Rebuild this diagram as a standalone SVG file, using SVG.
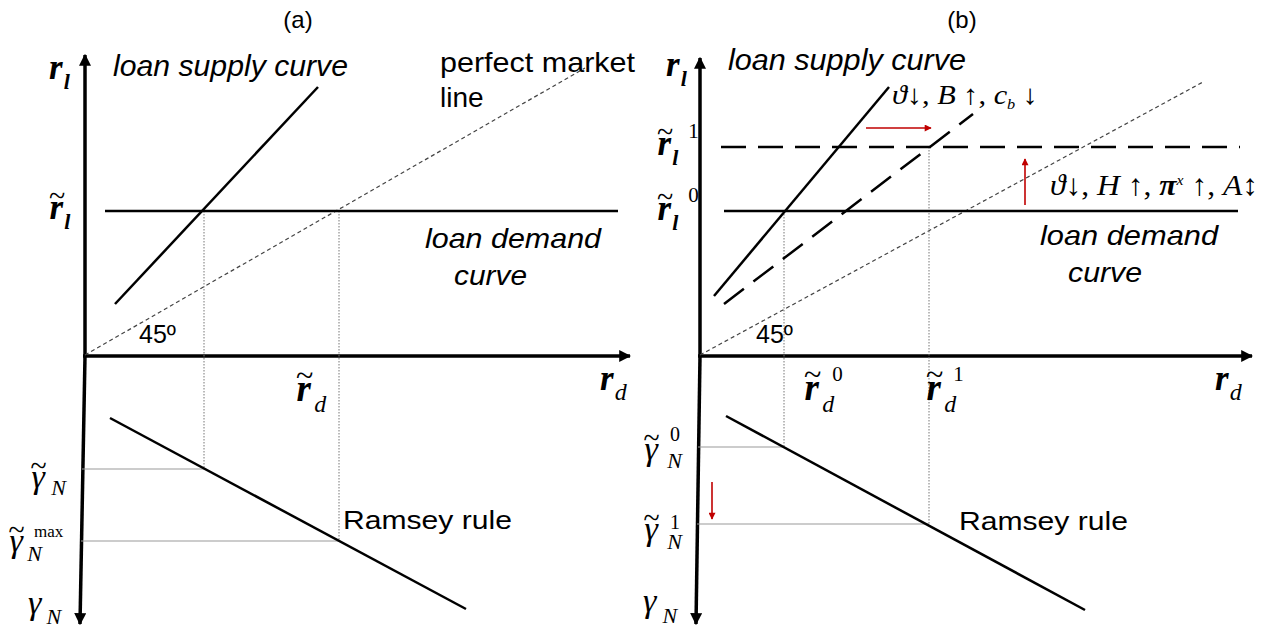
<svg xmlns="http://www.w3.org/2000/svg" width="1275" height="630" viewBox="0 0 1275 630">
<defs>
<marker id="ah" viewBox="0 0 10 10" refX="9" refY="5" markerWidth="12" markerHeight="12" markerUnits="userSpaceOnUse" orient="auto"><path d="M0,0 L10,5 L0,10 z" fill="#000"/></marker>
<marker id="rh" viewBox="0 0 10 10" refX="9" refY="5" markerWidth="8" markerHeight="7" markerUnits="userSpaceOnUse" orient="auto"><path d="M0,0 L10,5 L0,10 z" fill="#c00000"/></marker>
<style>
.ax{stroke:#000;stroke-width:3.5;fill:none}
.cv{stroke:#000;stroke-width:2.5;fill:none}
.dsh{stroke:#000;stroke-width:2.5;stroke-dasharray:25 12;fill:none}
.perf{stroke:#444;stroke-width:1.2;stroke-dasharray:4 3;fill:none}
.vg{stroke:#777;stroke-width:1;stroke-dasharray:1.5 1.5;fill:none}
.hg{stroke:#999;stroke-width:1;fill:none}
.red{stroke:#c00000;stroke-width:1.6;fill:none}
.t{font-family:"Liberation Sans",Arial,sans-serif;fill:#000}
.ti{font-family:"Liberation Sans",Arial,sans-serif;font-style:italic;fill:#000}
.mb{font-family:"Liberation Serif","Times New Roman",serif;font-style:italic;font-weight:bold;fill:#000}
.mi{font-family:"Liberation Serif","Times New Roman",serif;font-style:italic;font-weight:normal;fill:#000}
.mr{font-family:"Liberation Serif","Times New Roman",serif;font-style:normal;font-weight:normal;fill:#000}
.tl{font-style:normal;font-weight:normal}
</style>
</defs>

<g id="titles">
<text class="t" x="298" y="28" font-size="24" text-anchor="middle">(a)</text>
<text class="t" x="962" y="28" font-size="24" text-anchor="middle">(b)</text>
</g>

<g id="axes">
<line class="ax" x1="85" y1="356" x2="85" y2="55" marker-end="url(#ah)"/>
<line class="ax" x1="83" y1="356" x2="630" y2="356" marker-end="url(#ah)"/>
<line class="ax" x1="85" y1="356" x2="80" y2="624" marker-end="url(#ah)"/>
<line class="ax" x1="700" y1="356" x2="700" y2="58" marker-end="url(#ah)"/>
<line class="ax" x1="698" y1="356" x2="1252" y2="356" marker-end="url(#ah)"/>
<line class="ax" x1="700" y1="356" x2="696" y2="624" marker-end="url(#ah)"/>
</g>

<g id="connectors">
<line class="perf" x1="85" y1="355" x2="585" y2="68"/>
<line class="vg" x1="204" y1="211" x2="204" y2="469"/>
<line class="vg" x1="339" y1="211" x2="339" y2="541"/>
<line class="hg" x1="82" y1="469" x2="204" y2="469"/>
<line class="hg" x1="81" y1="541" x2="339" y2="541"/>
<line class="perf" x1="700" y1="355" x2="1203" y2="82"/>
<line class="vg" x1="784" y1="211" x2="784" y2="447"/>
<line class="vg" x1="929" y1="147" x2="929" y2="524"/>
<line class="hg" x1="698" y1="447" x2="784" y2="447"/>
<line class="hg" x1="697" y1="524" x2="929" y2="524"/>
</g>

<g id="supply-a"><line class="cv" x1="115" y1="304" x2="318" y2="87"/></g>
<g id="demand-a"><line class="cv" x1="105" y1="211" x2="618" y2="211"/></g>
<g id="ramsey-a"><line class="cv" x1="110" y1="418" x2="466" y2="609"/></g>

<g id="supply-b"><line class="cv" x1="714" y1="296" x2="889" y2="87"/></g>
<g id="supply-b1"><line class="dsh" x1="724" y1="304" x2="973" y2="114"/></g>
<g id="demand-b"><line class="cv" x1="724" y1="211" x2="1238" y2="211"/></g>
<g id="demand-b1"><line class="dsh" x1="721" y1="147" x2="1240" y2="147"/></g>
<g id="ramsey-b"><line class="cv" x1="726" y1="416" x2="1085" y2="610"/></g>

<g id="shift-arrows">
<line class="red" x1="866" y1="128" x2="931" y2="128" marker-end="url(#rh)"/>
<line class="red" x1="1025" y1="205" x2="1025" y2="159" marker-end="url(#rh)"/>
<line class="red" x1="712" y1="482" x2="712" y2="519" marker-end="url(#rh)"/>
</g>

<g id="labels-a">
<text class="ti" x="113" y="76" font-size="29" textLength="235" lengthAdjust="spacingAndGlyphs">loan supply curve</text>
<text class="t" x="440" y="72" font-size="28" textLength="195" lengthAdjust="spacingAndGlyphs">perfect market</text>
<text class="t" x="440" y="107" font-size="28">line</text>
<text class="ti" x="425" y="248" font-size="28" textLength="176" lengthAdjust="spacingAndGlyphs">loan demand</text>
<text class="ti" x="454" y="285" font-size="28" textLength="73" lengthAdjust="spacingAndGlyphs">curve</text>
<text class="t" x="139" y="343" font-size="25">45º</text>
<text class="t" x="343" y="529" font-size="25" textLength="169" lengthAdjust="spacingAndGlyphs">Ramsey rule</text>
<text class="mb" x="49" y="79" font-size="35">r<tspan dx="1" dy="10" font-size="22">l</tspan></text>
<text class="mb" x="49" y="219" font-size="35">r<tspan class="tl" font-size="30" dx="-14" dy="-13">~</tspan><tspan dx="-1" dy="23" font-size="22">l</tspan></text>
<text class="mb" x="296" y="401" font-size="37">r<tspan class="tl" font-size="32" dx="-15" dy="-15">~</tspan><tspan class="mi" dx="1" dy="26" font-size="24">d</tspan></text>
<text class="mb" x="600" y="390" font-size="35">r<tspan class="mi" dx="1" dy="10" font-size="24">d</tspan></text>
<text class="mi" x="30" y="488" font-size="34">γ<tspan font-size="30" dx="-15" dy="-12">~</tspan><tspan dx="5" dy="19" font-size="22">N</tspan></text>
<text class="mi" x="8" y="552" font-size="34">γ<tspan font-size="30" dx="-15" dy="-12">~</tspan><tspan dx="3" dy="21" font-size="22">N</tspan><tspan class="mr" dx="-8" dy="-24" font-size="17">max</tspan></text>
<text class="mi" x="28" y="614" font-size="34">γ<tspan dx="5" dy="10" font-size="22">N</tspan></text>
</g>

<g id="labels-b">
<text class="ti" x="728" y="70" font-size="29" textLength="238" lengthAdjust="spacingAndGlyphs">loan supply curve</text>
<text class="ti" x="1040" y="245" font-size="28" textLength="178" lengthAdjust="spacingAndGlyphs">loan demand</text>
<text class="ti" x="1068" y="282" font-size="28" textLength="74" lengthAdjust="spacingAndGlyphs">curve</text>
<text class="t" x="756" y="343" font-size="25">45º</text>
<text class="t" x="959" y="530" font-size="25" textLength="169" lengthAdjust="spacingAndGlyphs">Ramsey rule</text>
<text class="mb" x="666" y="76" font-size="35">r<tspan dx="1" dy="10" font-size="22">l</tspan></text>
<text class="mb" x="657" y="155" font-size="35">r<tspan class="tl" font-size="30" dx="-14" dy="-13">~</tspan><tspan dx="-1" dy="23" font-size="22">l</tspan><tspan class="mr" dx="10" dy="-27" font-size="21">1</tspan></text>
<text class="mb" x="657" y="220" font-size="35">r<tspan class="tl" font-size="30" dx="-14" dy="-13">~</tspan><tspan dx="-1" dy="23" font-size="22">l</tspan><tspan class="mr" dx="10" dy="-28" font-size="21">0</tspan></text>
<text class="mb" x="804" y="400" font-size="37">r<tspan class="tl" font-size="32" dx="-15" dy="-15">~</tspan><tspan class="mi" dx="1" dy="27" font-size="24">d</tspan><tspan class="mr" dx="-2" dy="-31" font-size="21">0</tspan></text>
<text class="mb" x="926" y="400" font-size="37">r<tspan class="tl" font-size="32" dx="-15" dy="-15">~</tspan><tspan class="mi" dx="1" dy="27" font-size="24">d</tspan><tspan class="mr" dx="-3" dy="-31" font-size="21">1</tspan></text>
<text class="mb" x="1215" y="390" font-size="35">r<tspan class="mi" dx="1" dy="10" font-size="24">d</tspan></text>
<text class="mi" x="643" y="460" font-size="34">γ<tspan font-size="30" dx="-15" dy="-12">~</tspan><tspan dx="8" dy="20" font-size="22">N</tspan><tspan class="mr" dx="-12" dy="-27" font-size="20">0</tspan></text>
<text class="mi" x="643" y="540" font-size="34">γ<tspan font-size="30" dx="-15" dy="-12">~</tspan><tspan dx="8" dy="21" font-size="22">N</tspan><tspan class="mr" dx="-12" dy="-20" font-size="20">1</tspan></text>
<text class="mi" x="643" y="612" font-size="34">γ<tspan dx="6" dy="11" font-size="22">N</tspan></text>
<text class="mr" x="892" y="104" font-size="28" textLength="146" lengthAdjust="spacingAndGlyphs"><tspan class="mi">ϑ</tspan>↓, <tspan class="mi">B</tspan> ↑, <tspan class="mi">c</tspan><tspan font-size="15" dy="5" fill="#666" class="mi">b</tspan><tspan dy="-5"> ↓</tspan></text>
<text class="mr" x="1050" y="195" font-size="30" textLength="208" lengthAdjust="spacingAndGlyphs"><tspan class="mi">ϑ</tspan>↓, <tspan class="mi">H</tspan> ↑, <tspan class="mb">π</tspan><tspan font-size="15" dy="-10" class="mi">x</tspan><tspan dy="10"> ↑, </tspan><tspan class="mi">A</tspan>↕</text>
</g>
</svg>
